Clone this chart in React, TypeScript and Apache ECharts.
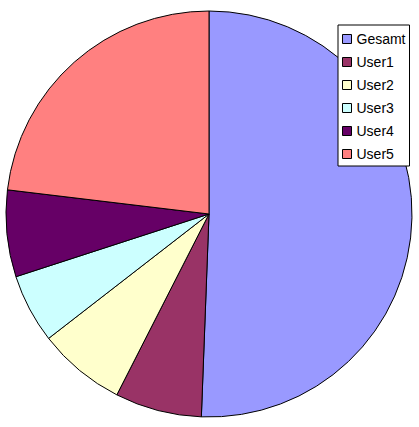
import React, { useEffect, useRef } from "react";
import * as echarts from "echarts";

const categories = ["Gesamt", "User1", "User2", "User3", "User4", "User5"];
const values = [50.6, 6.9, 7.0, 5.5, 6.9, 23.1];
const colors = ["#9999FF", "#993366", "#FFFFCC", "#CCFFFF", "#660066", "#FF8080"];

export default function App() {
  const ref = useRef<HTMLDivElement>(null);
  useEffect(() => {
    if (!ref.current) return;
    const chart = echarts.init(ref.current, undefined, { renderer: "svg" });
    chart.setOption({
      animation: false,
      backgroundColor: "#FFFFFF",
      color: colors,
      legend: {
        orient: "vertical",
        left: 338,
        top: 25,
        backgroundColor: "#FFFFFF",
        borderColor: "#000000",
        borderWidth: 1,
        borderRadius: 0,
        padding: [6, 4, 4, 4],
        itemWidth: 9,
        itemHeight: 9,
        itemGap: 7,
        itemTextGap: 6,
        icon: "rect",
        itemStyle: { borderColor: "#000000", borderWidth: 1 },
        textStyle: { fontFamily: "Liberation Sans, Arial, sans-serif", fontSize: 14, color: "#000000", lineHeight: 16 },
        data: categories,
      },
      series: [
        {
          type: "pie",
          center: [209, 214],
          radius: 203,
          startAngle: 90,
          clockwise: true,
          label: { show: false },
          labelLine: { show: false },
          emphasis: { disabled: true },
          itemStyle: { borderColor: "#000000", borderWidth: 1 },
          data: categories.map((c, i) => ({ name: c, value: values[i] })),
        },
      ],
    });
    return () => chart.dispose();
  }, []);
  return <div ref={ref} style={{ position: "fixed", left: 0, top: 0, width: 419, height: 427 }} />;
}
